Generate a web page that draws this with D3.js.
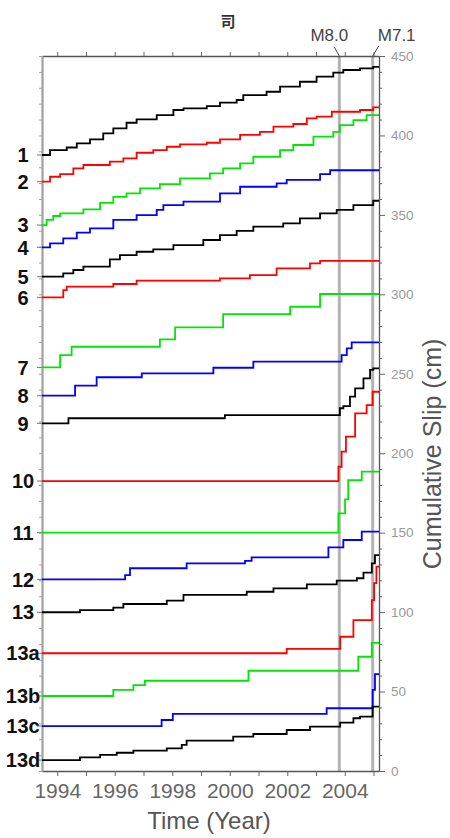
<!DOCTYPE html>
<html>
<head>
<meta charset="utf-8">
<script src="https://cdn.jsdelivr.net/npm/d3@7/dist/d3.min.js"></script>
<style>
  body { margin: 0; background: #fff; }
  svg { display: block; font-family: Arial, "Liberation Sans", Helvetica, sans-serif; }
</style>
</head>
<body>
<svg id="chart"></svg>
<script>
// station names, top to bottom
const seriesNames = ['1', '2', '3', '4', '5', '6', '7', '8', '9', '10', '11', '12', '13', '13a', '13b', '13c', '13d'];

// cumulative slip (cm) per station, [year, value] step points
const s1 = [[1993.47, 387.7], [1993.75, 390.8], [1994.33, 392.4], [1994.68, 395], [1995.14, 397.5], [1995.60, 401.3], [1995.95, 404.4], [1996.41, 408], [1996.76, 410.1], [1997.46, 412.8], [1998.04, 416], [1998.39, 417], [1999.20, 418.5], [1999.66, 420.6], [2000.24, 422.3], [2000.47, 425.4], [2001.28, 427.5], [2001.75, 430.7], [2002.44, 433.8], [2003.02, 437], [2003.60, 439.5], [2003.95, 441.2], [2004.53, 442.2], [2004.99, 443.2], [2005.19, 443.2]];
const s2 = [[1993.47, 370.9], [1993.75, 374], [1994.10, 375.7], [1994.56, 379.3], [1994.91, 381.4], [1995.83, 383.5], [1996.30, 385.6], [1996.76, 389.1], [1997.34, 390.8], [1997.81, 392.9], [1998.27, 394.4], [1999.20, 395.4], [1999.66, 397.5], [2000.36, 400.3], [2001.05, 402.3], [2001.52, 405.5], [2002.21, 407.2], [2002.68, 410.8], [2003.02, 411.8], [2003.55, 414.9], [2004.53, 416], [2004.99, 417.7], [2005.19, 417.7]];
const s3 = [[1993.47, 343.6], [1993.63, 346.8], [1993.86, 349.3], [1994.10, 351], [1994.91, 353.5], [1995.49, 357.6], [1995.95, 361.4], [1996.41, 363.5], [1996.88, 366.7], [1997.57, 369.4], [1998.27, 373], [1999.31, 376.1], [1999.77, 379.3], [2000.36, 382.4], [2000.82, 386.6], [2001.75, 390.8], [2002.21, 394], [2002.91, 399.2], [2003.60, 402.3], [2003.83, 406.5], [2004.30, 409.7], [2004.76, 412.8], [2005.19, 412.8]];
const s4 = [[1993.47, 329.6], [1993.75, 332.1], [1994.21, 335.2], [1994.68, 338.8], [1995.14, 341.5], [1995.95, 346.8], [1996.76, 349.9], [1997.46, 353.1], [1997.69, 356.2], [1998.39, 358.3], [1999.66, 363.6], [2000.36, 367.7], [2001.63, 369.8], [2001.98, 372], [2003.14, 375.7], [2003.49, 378.1], [2005.19, 378.1]];
const s5 = [[1993.47, 311.1], [1994.21, 313.2], [1994.56, 315.3], [1994.91, 317.4], [1995.83, 322], [1996.18, 324.7], [1996.76, 326.8], [1997.34, 328.3], [1998.04, 331], [1999.08, 334.2], [1999.66, 337.3], [2000.24, 340], [2000.82, 342.6], [2001.86, 344.7], [2002.44, 347.8], [2003.14, 351], [2003.72, 353.1], [2004.30, 356.2], [2004.99, 358.9], [2005.19, 358.9]];
const s6 = [[1993.47, 298.1], [1994.21, 302.7], [1994.33, 304.8], [1995.95, 306.5], [1996.76, 308.6], [1999.66, 310], [2000.70, 312.1], [2001.63, 316.4], [2002.79, 319.5], [2003.14, 321.1], [2005.19, 321.1]];
const s7 = [[1993.47, 254], [1994.10, 261.8], [1994.50, 267], [1997.57, 271.7], [1998.10, 279.2], [1999.77, 287.6], [2002.10, 292.2], [2003.14, 300.2], [2005.19, 300.2]];
const s8 = [[1993.47, 236.2], [1994.62, 242.5], [1995.37, 247.8], [1996.94, 250.3], [1999.43, 253.8], [2000.82, 257.6], [2003.89, 261.8], [2004.07, 266], [2004.24, 269.8], [2005.19, 269.8]];
const s9 = [[1993.47, 218.8], [1994.39, 222], [1999.83, 224], [2003.83, 228.3], [2003.95, 229.7], [2004.18, 235.6], [2004.36, 240.8], [2004.65, 247.1], [2004.88, 252.4], [2004.99, 253.4], [2005.19, 253.4]];
const s10 = [[1993.47, 182.5], [2003.78, 191.5], [2003.89, 201], [2004.04, 210.4], [2004.36, 225.1], [2004.76, 230.3], [2004.97, 238.7], [2005.19, 238.7]];
const s11 = [[1993.47, 150], [2003.78, 162.2], [2004.01, 171], [2004.12, 183.1], [2004.59, 188.4], [2005.19, 188.4]];
const s12 = [[1993.47, 120.6], [1996.36, 123.3], [1996.53, 127.6], [1998.50, 130.7], [2000.53, 132.3], [2000.76, 134.5], [2003.43, 140.8], [2003.95, 145.4], [2004.59, 150.6], [2005.19, 150.6]];
const s13 = [[1993.47, 99.9], [1994.79, 101.3], [1995.95, 102.8], [1996.30, 105.1], [1997.81, 107.2], [1998.39, 110.8], [2000.59, 112.8], [2001.52, 115], [2002.68, 117.5], [2003.72, 119.8], [2004.42, 121.3], [2004.65, 124.8], [2004.94, 130.7], [2005.05, 135.9], [2005.19, 135.9]];
const s13a = [[1993.47, 74.1], [2001.98, 76.8], [2003.84, 84.5], [2004.30, 95], [2004.94, 107.6], [2005.02, 118.3], [2005.10, 128.6], [2005.19, 128.6]];
const s13b = [[1993.47, 47.2], [1995.95, 51], [1996.65, 54.1], [1997.05, 56.8], [2000.65, 63.1], [2004.47, 71.9], [2004.94, 80.6], [2005.19, 80.6]];
const s13c = [[1993.47, 28.3], [1997.63, 32.1], [1998.02, 35.9], [2003.37, 39.5], [2004.97, 51], [2005.05, 61], [2005.19, 61]];
const s13d = [[1993.47, 6.9], [1994.79, 8.6], [1995.49, 10.1], [1996.07, 11.5], [1996.65, 12.8], [1997.81, 14.3], [1998.33, 16.4], [1998.50, 19.1], [2000.12, 21.6], [2000.82, 23.3], [2001.98, 25.8], [2002.79, 27.9], [2003.84, 30.4], [2004.30, 33.2], [2004.53, 34.2], [2004.97, 40.5], [2005.19, 40.5]];

const seriesData = [s1, s2, s3, s4, s5, s6, s7, s8, s9, s10, s11, s12, s13, s13a, s13b, s13c, s13d];
const colorCycle = ['#000000', '#ff0000', '#00e600', '#0000ff'];

// axis ticks and labels
const yearTicks = [1994, 1995, 1996, 1997, 1998, 1999, 2000, 2001, 2002, 2003, 2004, 2005];
const yearLabels = [1994, 1996, 1998, 2000, 2002, 2004];
const slipTicks = d3.range(0, 451, 10);
const slipLabels = [0, 50, 100, 150, 200, 250, 300, 350, 400, 450];

// earthquakes
const quakeYears = [2003.81, 2004.97];
const quakeNames = ['M8.0', 'M7.1'];

const W = 450, H = 838;
const svg = d3.select('#chart').attr('width', W).attr('height', H);

const x = d3.scaleLinear().domain([1993.47, 2005.19]).range([42, 379]);
const y = d3.scaleLinear().domain([0, 450]).range([771, 56]);

// title fragment
svg.append('text')
  .attr('x', 228).attr('y', 27)
  .attr('text-anchor', 'middle')
  .style('font-family', '"Noto Sans CJK JP", sans-serif')
  .style('font-weight', 'bold')
  .style('font-size', '15px')
  .style('fill', '#333')
  .text('司');

// earthquake bands
svg.selectAll('.quake')
  .data(quakeYears)
  .enter()
  .append('line')
  .attr('class', 'quake')
  .attr('x1', d => x(d)).attr('x2', d => x(d))
  .attr('y1', y(450)).attr('y2', y(0))
  .attr('stroke', '#b4b4b4')
  .attr('stroke-width', 3);

// leaders + labels for earthquakes
const labelShift = [-10, 24];
const leaderTop = [[-5, 47], [6, 46]];
quakeYears.forEach((q, i) => {
  svg.append('line')
    .attr('x1', x(q) + leaderTop[i][0]).attr('y1', leaderTop[i][1])
    .attr('x2', x(q)).attr('y2', y(450))
    .attr('stroke', '#444').attr('stroke-width', 1);
  svg.append('text')
    .attr('x', x(q) + labelShift[i]).attr('y', 41)
    .attr('text-anchor', 'middle')
    .style('font-size', '17px')
    .style('fill', '#444')
    .text(quakeNames[i]);
});

// axes
const bottom = svg.append('g')
  .attr('transform', `translate(0, ${y(0)})`)
  .call(d3.axisBottom(x).tickValues(yearTicks)
    .tickFormat(d => yearLabels.includes(d) ? d : '')
    .tickSize(5).tickPadding(7).tickSizeOuter(0));
bottom.selectAll('text').style('font-size', '21px').style('fill', '#666');

svg.append('g')
  .attr('transform', `translate(0, ${y(450)})`)
  .call(d3.axisTop(x).tickValues(yearTicks).tickFormat('').tickSize(4).tickSizeOuter(0));

const right = svg.append('g')
  .attr('transform', `translate(${x.range()[1]}, 0)`)
  .call(d3.axisRight(y).tickValues(slipTicks)
    .tickFormat(d => slipLabels.includes(d) ? d : '')
    .tickSize(5).tickPadding(7).tickSizeOuter(0));
right.selectAll('text').style('font-size', '13.5px').style('fill', '#999');
right.selectAll('.tick line').attr('x2', d => slipLabels.includes(d) ? 6 : 3);

const left = svg.append('g')
  .attr('transform', `translate(${x.range()[0]}, 0)`)
  .call(d3.axisLeft(y).tickValues(slipTicks).tickFormat('').tickSize(3).tickSizeOuter(0));
left.select('.domain').attr('stroke', '#a0a0a0').attr('stroke-width', 2.2);
left.selectAll('.tick line').attr('stroke', '#a0a0a0');

svg.selectAll('.domain').filter(function () { return this.parentNode !== left.node(); })
  .attr('stroke', '#555').attr('stroke-width', 1.3);
svg.selectAll('.tick line').filter(function () { return this.parentNode.parentNode !== left.node(); })
  .attr('stroke', '#666');

// slip curves
const line = d3.line()
  .x(d => x(d[0]))
  .y(d => y(d[1]))
  .curve(d3.curveStepAfter);

svg.selectAll('.slip')
  .data(seriesData)
  .enter()
  .append('path')
  .attr('class', 'slip')
  .attr('d', line)
  .attr('fill', 'none')
  .attr('stroke', (d, i) => colorCycle[i % 4])
  .attr('stroke-width', 1.8);

// station labels
svg.selectAll('.stn-tick')
  .data(seriesData)
  .enter()
  .append('line')
  .attr('class', 'stn-tick')
  .attr('x1', x.range()[0] - 5).attr('x2', x.range()[0])
  .attr('y1', d => y(d[0][1])).attr('y2', d => y(d[0][1]))
  .attr('stroke', '#777').attr('stroke-width', 1);

svg.selectAll('.stn')
  .data(seriesNames)
  .enter()
  .append('text')
  .attr('class', 'stn')
  .attr('x', 23)
  .attr('y', (d, i) => y(seriesData[i][0][1]))
  .attr('dy', '0.36em')
  .attr('text-anchor', 'middle')
  .style('font-weight', 'bold')
  .style('font-size', '20px')
  .style('fill', '#111')
  .text(d => d);

// axis titles
svg.append('text')
  .attr('x', 209).attr('y', 829)
  .attr('text-anchor', 'middle')
  .style('font-size', '24px')
  .style('fill', '#555')
  .text('Time (Year)');

svg.append('text')
  .attr('transform', 'translate(432, 454) rotate(-90)')
  .attr('dy', '0.35em')
  .attr('text-anchor', 'middle')
  .style('font-size', '25px')
  .style('fill', '#555')
  .text('Cumulative Slip (cm)');
</script>
</body>
</html>
